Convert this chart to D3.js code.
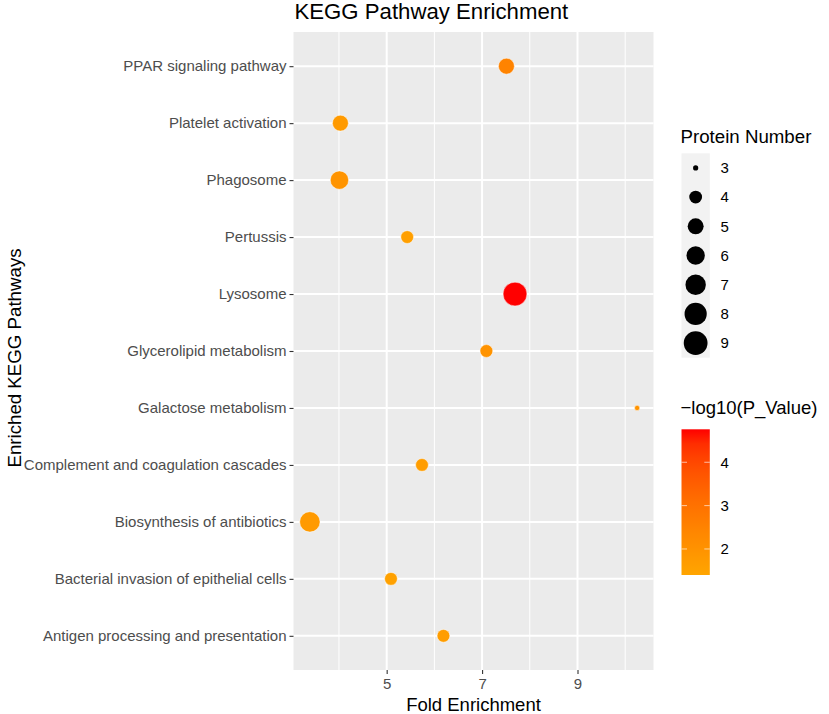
<!DOCTYPE html>
<html>
<head>
<meta charset="utf-8">
<script src="https://cdn.jsdelivr.net/npm/d3@7"></script>
<style>
  body { margin: 0; background: #fff; }
  text { font-family: Arial, "Liberation Sans", sans-serif; }
</style>
</head>
<body>
<svg id="mainSvg" width="829" height="714"></svg>
<script>
// pathways, top to bottom as drawn
var pathways = ["PPAR signaling pathway", "Platelet activation", "Phagosome", "Pertussis",
  "Lysosome", "Glycerolipid metabolism", "Galactose metabolism",
  "Complement and coagulation cascades", "Biosynthesis of antibiotics",
  "Bacterial invasion of epithelial cells", "Antigen processing and presentation"];
var foldEnrichment = [7.51, 4.03, 4.01, 5.43, 7.69, 7.09, 10.25, 5.74, 3.39, 5.09, 6.19];
var proteinNumber = [5, 5, 6, 4, 9, 4, 3, 4, 7, 4, 4];
var negLogP = [2.5, 1.75, 1.95, 1.6, 4.76, 2.0, 2.0, 1.65, 1.75, 1.55, 1.65];

var xMajor = [5, 7, 9];
var xMinor = [4, 6, 8, 10];
var sizeBreaks = [3, 4, 5, 6, 7, 8, 9];
var colorBreaks = [2, 3, 4];
var colorLimits = [1.40, 4.76];

var svg = d3.select("#mainSvg");
var panel = {left: 293.5, top: 32, right: 653.5, bottom: 670};

var data = pathways.map(function(p, i) {
  return {name: p, fold: foldEnrichment[i], n: proteinNumber[i], lp: negLogP[i]};
});

// ggplot style 5% expansion on the continuous axis
var ext = d3.extent(foldEnrichment);
var pad = (ext[1] - ext[0]) * 0.05;
var x = d3.scaleLinear().domain([ext[0] - pad, ext[1] + pad]).range([panel.left, panel.right]);
var y = d3.scalePoint().domain(pathways).range([panel.top, panel.bottom]).padding(0.6);

var nMin = d3.min(sizeBreaks), nMax = d3.max(sizeBreaks);
var rScale = d3.scaleSqrt().domain([0, nMax - nMin]).range([2.6, 11.9]);
function radius(v) { return rScale(v - nMin); }

var color = d3.scaleLinear().domain(colorLimits).range(["#FFA500", "#FF0000"])
  .interpolate(d3.interpolateLab).clamp(true);

// panel background
svg.append("rect").attr("x", panel.left).attr("y", panel.top)
  .attr("width", panel.right - panel.left).attr("height", panel.bottom - panel.top)
  .attr("fill", "#EBEBEB");

// grid
svg.selectAll("line.minor").data(xMinor).enter().append("line")
  .attr("x1", function(d) { return x(d); }).attr("x2", function(d) { return x(d); })
  .attr("y1", panel.top).attr("y2", panel.bottom)
  .attr("stroke", "#fff").attr("stroke-width", 1);
svg.selectAll("line.majx").data(xMajor).enter().append("line")
  .attr("x1", function(d) { return x(d); }).attr("x2", function(d) { return x(d); })
  .attr("y1", panel.top).attr("y2", panel.bottom)
  .attr("stroke", "#fff").attr("stroke-width", 2);
svg.selectAll("line.majy").data(pathways).enter().append("line")
  .attr("x1", panel.left).attr("x2", panel.right)
  .attr("y1", function(d) { return y(d); }).attr("y2", function(d) { return y(d); })
  .attr("stroke", "#fff").attr("stroke-width", 2);

// axes
var xAxis = svg.append("g").attr("transform", "translate(0," + panel.bottom + ")")
  .call(d3.axisBottom(x).tickValues(xMajor).tickSize(4).tickPadding(4));
var yAxis = svg.append("g").attr("transform", "translate(" + panel.left + ",0)")
  .call(d3.axisLeft(y).tickSize(4).tickPadding(3));
[xAxis, yAxis].forEach(function(a) {
  a.select(".domain").remove();
  a.selectAll(".tick line").attr("stroke", "#333").attr("stroke-width", 1.1);
  a.selectAll(".tick text").attr("fill", "#4D4D4D").style("font-size", "15px")
    .style("font-family", "Arial, 'Liberation Sans', sans-serif");
});

// points
svg.selectAll("circle.pt").data(data).enter().append("circle")
  .attr("cx", function(d) { return x(d.fold); })
  .attr("cy", function(d) { return y(d.name); })
  .attr("r", function(d) { return radius(d.n); })
  .attr("fill", function(d) { return color(d.lp); })
  .attr("stroke", "#fff").attr("stroke-opacity", 0.6).attr("stroke-width", 0.8);

// titles
svg.append("text").attr("x", panel.left + 1).attr("y", 18.5)
  .style("font-size", "22.2px").attr("fill", "#000").text("KEGG Pathway Enrichment");
svg.append("text").attr("x", (panel.left + panel.right) / 2).attr("y", 711)
  .attr("text-anchor", "middle").style("font-size", "18.5px").text("Fold Enrichment");
svg.append("text").attr("transform", "translate(21," + ((panel.top + panel.bottom) / 2 + 7) + ") rotate(-90)")
  .attr("text-anchor", "middle").style("font-size", "18.7px").text("Enriched KEGG Pathways");

// size legend
var lg = {x: 681.5, y: 153.3, w: 28.3, h: 29.2};
svg.append("text").attr("x", lg.x - 1).attr("y", 143.3).style("font-size", "18.7px").text("Protein Number");
svg.append("rect").attr("x", lg.x).attr("y", lg.y).attr("width", lg.w)
  .attr("height", lg.h * sizeBreaks.length).attr("fill", "#F2F2F2");
svg.selectAll("circle.key").data(sizeBreaks).enter().append("circle")
  .attr("cx", lg.x + lg.w / 2)
  .attr("cy", function(d, i) { return lg.y + lg.h * (i + 0.5); })
  .attr("r", function(d) { return radius(d); }).attr("fill", "#000");
svg.selectAll("text.key").data(sizeBreaks).enter().append("text")
  .attr("x", lg.x + 39).attr("y", function(d, i) { return lg.y + lg.h * (i + 0.5) + 5.3; })
  .style("font-size", "15px").text(function(d) { return d; });

// colour bar
var cb = {x: 681.5, y: 429.3, w: 28.3, h: 145.7};
var cy = d3.scaleLinear().domain(colorLimits).range([cb.y + cb.h, cb.y]);
svg.append("text").attr("x", lg.x - 1).attr("y", 414).style("font-size", "18.5px").text("\u2212log10(P_Value)");
var grad = svg.append("defs").append("linearGradient").attr("id", "cbGrad")
  .attr("x1", 0).attr("y1", 1).attr("x2", 0).attr("y2", 0);
d3.range(0, 1.0001, 0.1).forEach(function(t) {
  var v = colorLimits[0] + t * (colorLimits[1] - colorLimits[0]);
  grad.append("stop").attr("offset", t).attr("stop-color", color(v));
});
svg.append("rect").attr("x", cb.x).attr("y", cb.y).attr("width", cb.w).attr("height", cb.h)
  .attr("fill", "url(#cbGrad)");
colorBreaks.forEach(function(b) {
  [[cb.x, cb.x + 5.5], [cb.x + cb.w - 5.5, cb.x + cb.w]].forEach(function(s) {
    svg.append("line").attr("x1", s[0]).attr("x2", s[1]).attr("y1", cy(b)).attr("y2", cy(b))
      .attr("stroke", "#fff").attr("stroke-opacity", 0.8).attr("stroke-width", 0.8);
  });
  svg.append("text").attr("x", cb.x + 39).attr("y", cy(b) + 5.3)
    .style("font-size", "15px").text(b);
});
</script>
</body>
</html>
